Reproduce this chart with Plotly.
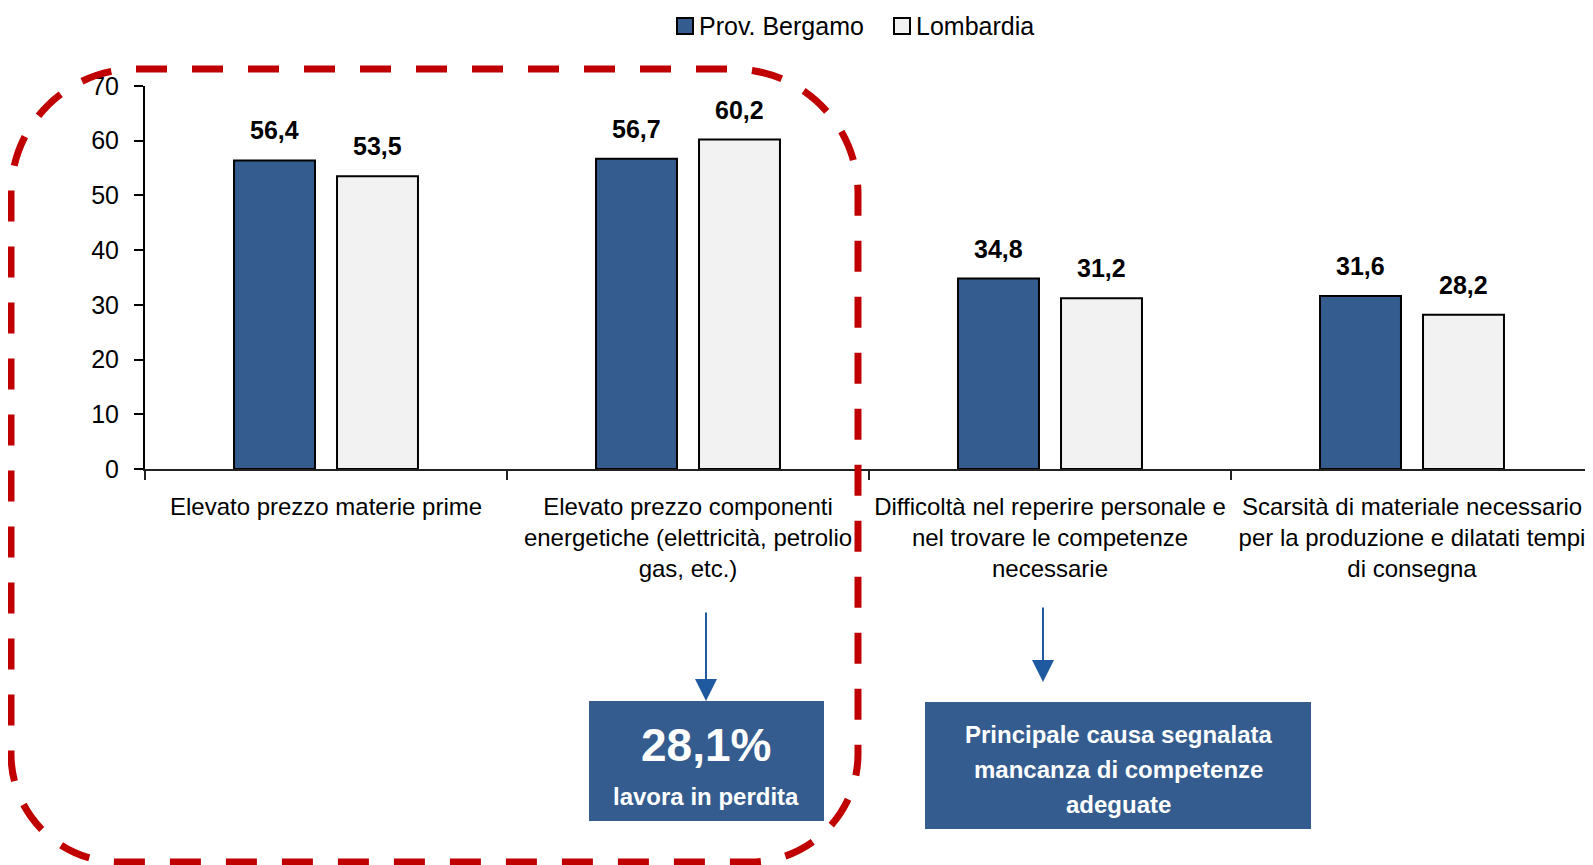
import plotly.graph_objects as go

# data
categories = [
    "Elevato prezzo materie prime",
    "Elevato prezzo componenti<br>energetiche (elettricità, petrolio<br>gas, etc.)",
    "Difficoltà nel reperire personale e<br>nel trovare le competenze<br>necessarie",
    "Scarsità di materiale necessario<br>per la produzione e dilatati tempi<br>di consegna",
]
bergamo = [56.4, 56.7, 34.8, 31.6]
lombardia = [53.5, 60.2, 31.2, 28.2]
series_names = ["Prov. Bergamo", "Lombardia"]
box1_big = "28,1%"
box1_small = "lavora in perdita"
box2_lines = ["Principale causa segnalata", "mancanza di competenze", "adeguate"]

BLUE = "#345C8F"
LIGHT = "#F2F2F2"
RED = "#C00000"
ARROW = "#1F5AA0"
FONT = "Liberation Sans, Arial, sans-serif"

W, H = 1593, 865
OFF = 8  # page body margin
# plot area in page pixels
L, R, T, B = 145, 1593, 86, 469


def px(x):
    return (x - L) / (R - L)


def py(y):
    return (B - y) / (B - T)


fig = go.Figure()
fig.add_trace(go.Bar(x=categories, y=bergamo, name=series_names[0],
                     marker=dict(color=BLUE, line=dict(color="black", width=2))))
fig.add_trace(go.Bar(x=categories, y=lombardia, name=series_names[1],
                     marker=dict(color=LIGHT, line=dict(color="black", width=2))))

annotations = []
# value labels
for vals, shift in ((bergamo, -51.5), (lombardia, 51.5)):
    for c, v in zip(categories, vals):
        annotations.append(dict(
            x=c, y=v, xref="x", yref="y", text=f"{v:.1f}".replace(".", ","),
            showarrow=False, xshift=shift, yshift=14, xanchor="center", yanchor="bottom",
            font=dict(family=FONT, size=25, color="black", weight="bold")))

shapes = []


def note(x, y, text, size, color="white", bold=True, xanchor="center"):
    annotations.append(dict(x=px(x), y=py(y), xref="paper", yref="paper", text=text,
                            showarrow=False, xanchor=xanchor, yanchor="middle",
                            font=dict(family=FONT, size=size, color=color,
                                      weight="bold" if bold else "normal")))


# legend (drawn by hand)
for (x0, x1), fill, name in (((677, 693), BLUE, series_names[0]),
                             ((894, 910), LIGHT, series_names[1])):
    shapes.append(dict(type="rect", xref="paper", yref="paper",
                       x0=px(x0), x1=px(x1), y0=py(34), y1=py(18),
                       fillcolor=fill, line=dict(color="black", width=2)))
    note(x1 + 4, 26, name, 25, color="black", bold=False, xanchor="left")

# red dashed rounded frame
x0, x1, y0, y1 = 11, 858, 69, 862
rt, rb = 125, 108
k = 0.5523


def P(x, y):
    return f"{px(x):.5f},{py(y):.5f}"


path = (f"M {P(x0 + rt, y0)} L {P(x1 - rt, y0)} "
        f"C {P(x1 - rt + k * rt, y0)} {P(x1, y0 + rt - k * rt)} {P(x1, y0 + rt)} "
        f"L {P(x1, y1 - rb)} "
        f"C {P(x1, y1 - rb + k * rb)} {P(x1 - rb + k * rb, y1)} {P(x1 - rb, y1)} "
        f"L {P(x0 + rb, y1)} "
        f"C {P(x0 + rb - k * rb, y1)} {P(x0, y1 - rb + k * rb)} {P(x0, y1 - rb)} "
        f"L {P(x0, y0 + rt)} "
        f"C {P(x0, y0 + rt - k * rt)} {P(x0 + rt - k * rt, y0)} {P(x0 + rt, y0)} Z")
shapes.append(dict(type="path", xref="paper", yref="paper", path=path,
                   line=dict(color=RED, width=7, dash="31px,25px"), layer="above"))

# callout boxes
shapes.append(dict(type="rect", xref="paper", yref="paper",
                   x0=px(589), x1=px(824), y0=py(821), y1=py(701),
                   fillcolor=BLUE, line=dict(width=0)))
shapes.append(dict(type="rect", xref="paper", yref="paper",
                   x0=px(925), x1=px(1311), y0=py(829), y1=py(702),
                   fillcolor=BLUE, line=dict(width=0)))

note(706, 745, box1_big, 46)
note(706, 796, box1_small, 24)
for line, yc in zip(box2_lines, (734, 769, 804)):
    note(1118, yc, line, 24)

# arrows
for ax_x, tail, tip in ((706, 611, 701), (1043, 606, 682)):
    annotations.append(dict(x=px(ax_x), y=py(tip), xref="paper", yref="paper", text="",
                            showarrow=True, ax=0, ay=-(tip - tail), arrowhead=2,
                            arrowsize=2.2, arrowwidth=2, arrowcolor=ARROW, standoff=0))

fig.update_layout(
    width=W, height=H,
    margin=dict(l=L - OFF, r=W - (R - OFF), t=T - OFF, b=H - (B - OFF), autoexpand=False),
    plot_bgcolor="white", paper_bgcolor="white",
    barmode="group", bargap=0.431, bargroupgap=0.214,
    showlegend=False,
    font=dict(family=FONT, size=25, color="black"),
    shapes=shapes, annotations=annotations,
)
fig.update_xaxes(type="category", range=[-0.5, 3.5], showline=True, linecolor="#222",
                 linewidth=2, ticks="outside", tickson="boundaries", ticklen=9,
                 tickcolor="#222", tickwidth=2, showgrid=False, tickangle=0,
                 automargin=False, ticklabelstandoff=15,
                 tickfont=dict(family=FONT, size=24, color="black"))
fig.update_yaxes(range=[0, 70], dtick=10, showline=True, linecolor="black", linewidth=2,
                 ticks="outside", ticklen=9, tickwidth=2, tickcolor="black",
                 showgrid=False, zeroline=False, ticklabelstandoff=10, automargin=False,
                 tickfont=dict(family=FONT, size=25, color="black"))

fig.write_html("out.html")
